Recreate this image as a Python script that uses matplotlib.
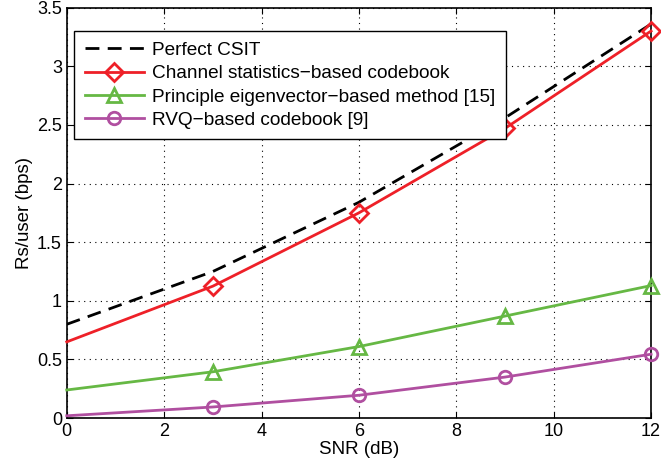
import matplotlib
matplotlib.use("Agg")
import matplotlib.pyplot as plt

plt.rcParams['font.family'] = ['Liberation Sans', 'DejaVu Sans']

# data
snr = [0, 3, 6, 9, 12]
perfect_csit = [0.80, 1.25, 1.84, 2.56, 3.36]
channel_stats = [0.65, 1.125, 1.75, 2.47, 3.30]
principle_eig = [0.24, 0.395, 0.61, 0.87, 1.13]
rvq = [0.02, 0.095, 0.195, 0.35, 0.545]

labels = ['Perfect CSIT',
          'Channel statistics\u2212based codebook',
          'Principle eigenvector\u2212based method [15]',
          'RVQ\u2212based codebook [9]']

fig = plt.figure(figsize=(6.61, 4.73), dpi=100)
ax = fig.add_axes([0.101, 0.116, 0.884, 0.868])

ax.plot(snr, perfect_csit, color='black', linestyle=(0, (5, 3)), linewidth=2, label=labels[0])
ax.plot(snr, channel_stats, color='#ee2028', linewidth=2, marker='D', markersize=9,
        markerfacecolor='none', markeredgewidth=2, markevery=[1, 2, 3, 4],
        clip_on=False, zorder=3, label=labels[1])
ax.plot(snr, principle_eig, color='#66b844', linewidth=2, marker='^', markersize=10,
        markerfacecolor='none', markeredgewidth=2, markevery=[1, 2, 3, 4],
        clip_on=False, zorder=3, label=labels[2])
ax.plot(snr, rvq, color='#b04fa0', linewidth=2, marker='o', markersize=9,
        markerfacecolor='none', markeredgewidth=2, markevery=[1, 2, 3, 4],
        clip_on=False, zorder=3, label=labels[3])

ax.set_xlim(0, 12)
ax.set_ylim(0, 3.5)
ax.set_xticks(range(0, 13, 2))
ax.set_yticks([0, 0.5, 1, 1.5, 2, 2.5, 3, 3.5])
ax.set_yticklabels(['0', '0.5', '1', '1.5', '2', '2.5', '3', '3.5'])
ax.tick_params(direction='in', top=True, right=True, labelsize=13, length=4)
ax.grid(True, linestyle=(0, (1, 4)), color='black', linewidth=0.8)
for s in ax.spines.values():
    s.set_linewidth(1.2)

ax.set_xlabel('SNR (dB)', fontsize=13.5, labelpad=1)
ax.set_ylabel('Rs/user (bps)', fontsize=13.5, labelpad=3)

leg = ax.legend(loc='upper left', bbox_to_anchor=(0.0125, 0.943), borderaxespad=0,
                fontsize=13.7, fancybox=False, framealpha=1, edgecolor='black',
                handlelength=3.1, borderpad=0.55, labelspacing=0.32, handletextpad=0.45)
leg.get_frame().set_linewidth(1.0)
leg.set_zorder(5)

fig.savefig('out.png', dpi=100)
